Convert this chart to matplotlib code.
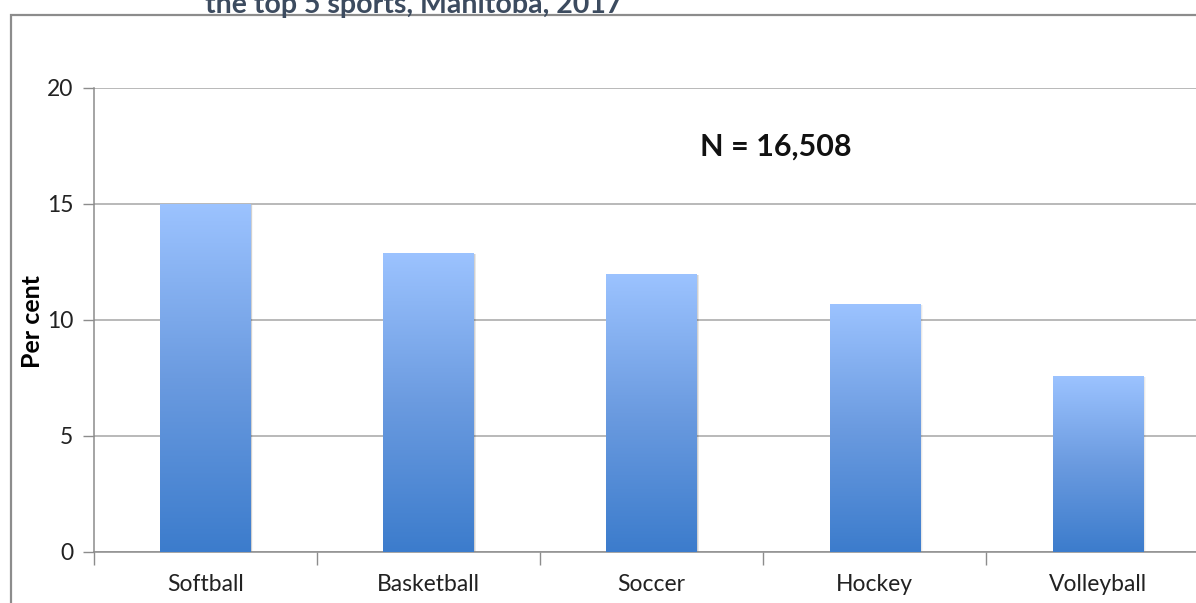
import numpy as np
import matplotlib.pyplot as plt
from matplotlib.colors import LinearSegmentedColormap
from matplotlib.patches import Rectangle

plt.rcParams['font.family'] = ['Lato', 'DejaVu Sans']

sports = ["Softball", "Basketball", "Soccer", "Hockey", "Volleyball"]
percent = [15.0, 12.9, 12.0, 10.7, 7.6]
yticks = [0, 5, 10, 15, 20]

title_line = "the top 5 sports, Manitoba, 2017"
n_label = "N = 16,508"

fig = plt.figure(figsize=(11.96, 6.03), dpi=100)

# outer chart border (runs off the right and bottom edge)
fig.patches.append(Rectangle((0.0095, -0.05), 1.2, 1.0247, transform=fig.transFigure,
                             fill=False, edgecolor="#8c8c8c", linewidth=1.6, zorder=0))

fig.text(0.1714, 0.979, title_line, fontsize=20.5, fontweight="bold",
         color="#3c4b5f", ha="left", va="baseline")

ax = fig.add_axes([0.0786, 0.0846, 0.9325, 0.7695])

grad = LinearSegmentedColormap.from_list("bluegrad", ["#3c7ccc", "#6b9be0", "#9cc3ff"])
xs = np.arange(len(sports)) + 0.5
w = 0.405
bars = ax.bar(xs, percent, width=w, color="none", edgecolor="none", zorder=3)
for b in bars:
    x0, h = b.get_x(), b.get_height()
    # soft shadow to the right of each bar
    for k, a in enumerate([0.10, 0.06, 0.03]):
        ax.add_patch(Rectangle((x0 + 0.004 * (k + 1), 0), w, h - 0.05,
                               facecolor="#000000", alpha=a, edgecolor="none", zorder=2))
    img = ax.imshow(np.linspace(0, 1, 256).reshape(-1, 1), cmap=grad, aspect="auto",
                    origin="lower", extent=[x0, x0 + w, 0, h], zorder=3)
    img.set_clip_path(b)

ax.set_xlim(0, len(sports))
ax.set_ylim(0, 20)

ax.set_yticks(yticks)
ax.set_xticks(xs)
ax.set_xticklabels(sports)
ax.set_xticks(np.arange(0, len(sports) + 1), minor=True)
ax.tick_params(axis="x", which="major", length=0, pad=16, labelsize=16.5, labelcolor="#222222")
ax.tick_params(axis="x", which="minor", length=9, color="#8c8c8c", width=1)
ax.tick_params(axis="y", length=8, color="#8c8c8c", width=1, pad=7,
               labelsize=16.5, labelcolor="#222222")
ax.yaxis.grid(True, color="#a6a6a6", linewidth=1.1, zorder=1)
ax.set_axisbelow(True)

for s in ["top", "right"]:
    ax.spines[s].set_visible(False)
for s in ["left", "bottom"]:
    ax.spines[s].set_color("#8c8c8c")
    ax.spines[s].set_linewidth(1.1)

ax.set_ylabel("Per cent", fontsize=18, fontweight="bold")
ax.yaxis.set_label_coords(-0.0445, 0.4975)

ax.text(3.058, 17.1, n_label, fontsize=22, fontweight="bold", ha="center", va="baseline",
        color="#111111")

fig.savefig("out.png", dpi=100)
